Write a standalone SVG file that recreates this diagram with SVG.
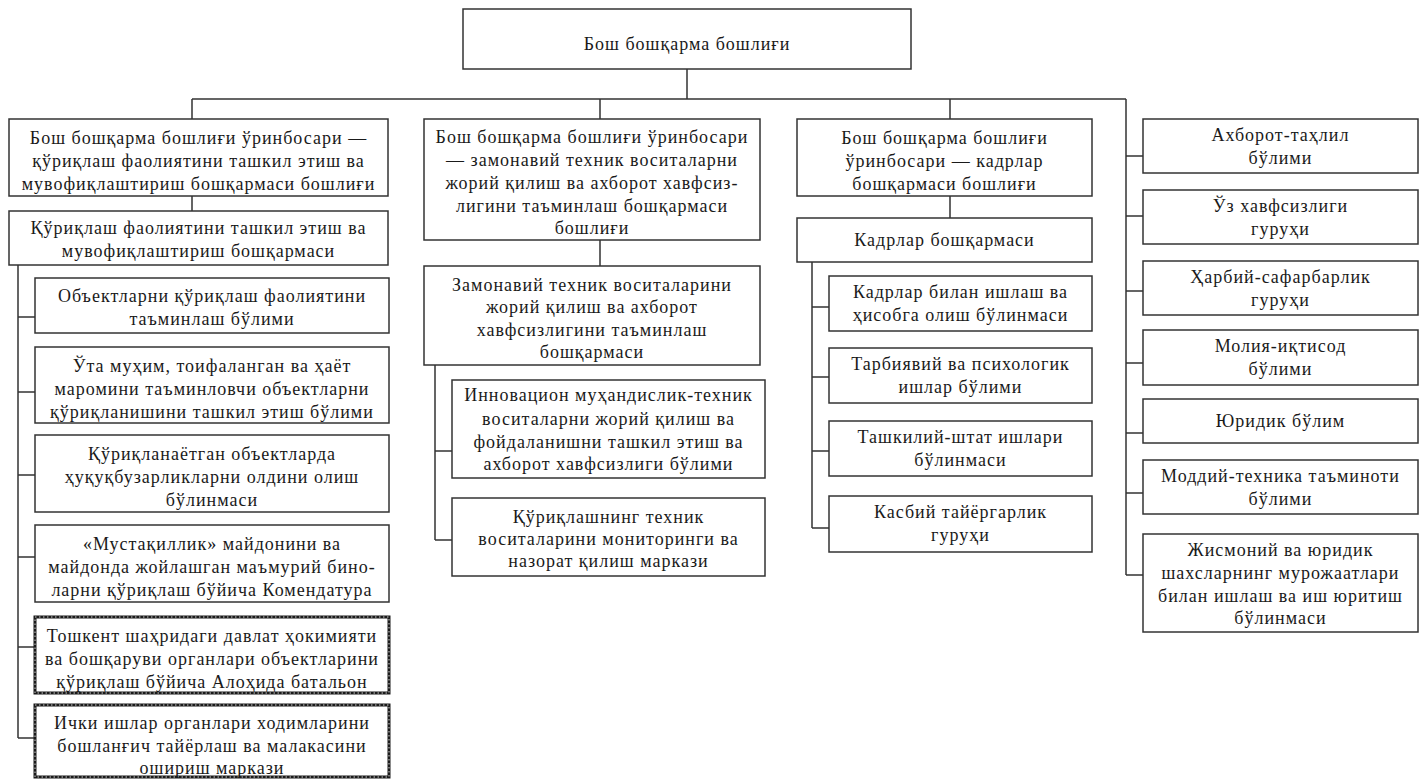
<svg xmlns="http://www.w3.org/2000/svg" width="1421" height="780" viewBox="0 0 1421 780">
<style>
.b{fill:#fff;stroke:#333;stroke-width:1.5}
.d{fill:#fff;stroke:#1a1a1a;stroke-width:3}
.dd{fill:none;stroke:#fff;stroke-width:0.8;stroke-dasharray:1.5 2.5}
.t{font-family:"Liberation Serif","Times New Roman",serif;font-size:18px;letter-spacing:1px;fill:#1a1a1a;text-anchor:middle}
.c{fill:none;stroke:#333;stroke-width:1.5}
</style>
<rect width="1421" height="780" fill="#fff"/>
<g id="connectors">
<path class="c" d="M687 69V99M192 99H1126M192 99V119M192 196V211M600 99V119M600 240V266M950 99V119M950 196V218"/>
<path class="c" d="M18 265V738M18 317H35M18 392H35M18 475H35M18 557H35M18 647H35M18 738H35"/>
<path class="c" d="M435 365V540M435 451H452M435 540H452"/>
<path class="c" d="M812 262V528M812 307H829M812 377H829M812 451H829M812 528H829"/>
<path class="c" d="M1126 99V575M1126 156H1143M1126 216H1143M1126 291H1143M1126 363H1143M1126 433H1143M1126 493H1143M1126 575H1143"/>
</g>
<g id="n0"><rect class="b" x="463" y="9" width="448" height="60"/><text class="t" x="687" y="50">Бош бошқарма бошлиғи</text></g>
<g id="n1"><rect class="b" x="9" y="119" width="379" height="77"/><text class="t"><tspan x="198.5" y="144">Бош бошқарма бошлиғи ўринбосари —</tspan><tspan x="198.5" y="167">қўриқлаш фаолиятини ташкил этиш ва</tspan><tspan x="198.5" y="190">мувофиқлаштириш бошқармаси бошлиғи</tspan></text></g>
<g id="n2"><rect class="b" x="9" y="211" width="379" height="54"/><text class="t"><tspan x="198.5" y="234">Қўриқлаш фаолиятини ташкил этиш ва</tspan><tspan x="198.5" y="257">мувофиқлаштириш бошқармаси</tspan></text></g>
<g id="n3"><rect class="b" x="35" y="278" width="354" height="55"/><text class="t"><tspan x="212" y="302">Объектларни қўриқлаш фаолиятини</tspan><tspan x="212" y="325">таъминлаш бўлими</tspan></text></g>
<g id="n4"><rect class="b" x="35" y="347" width="354" height="76"/><text class="t"><tspan x="212" y="372">Ўта муҳим, тоифаланган ва ҳаёт</tspan><tspan x="212" y="395">маромини таъминловчи объектларни</tspan><tspan x="212" y="418">қўриқланишини ташкил этиш бўлими</tspan></text></g>
<g id="n5"><rect class="b" x="35" y="435" width="354" height="77"/><text class="t"><tspan x="212" y="460">Қўриқланаётган объектларда</tspan><tspan x="212" y="483">ҳуқуқбузарликларни олдини олиш</tspan><tspan x="212" y="506">бўлинмаси</tspan></text></g>
<g id="n6"><rect class="b" x="35" y="525" width="354" height="77"/><text class="t"><tspan x="212" y="550">«Мустақиллик» майдонини ва</tspan><tspan x="212" y="573">майдонда жойлашган маъмурий бино-</tspan><tspan x="212" y="596">ларни қўриқлаш бўйича Комендатура</tspan></text></g>
<g id="n7"><rect class="d" x="35" y="617" width="354" height="76"/><rect class="dd" x="35" y="617" width="354" height="76"/><text class="t"><tspan x="212" y="642">Тошкент шаҳридаги давлат ҳокимияти</tspan><tspan x="212" y="665">ва бошқаруви органлари объектларини</tspan><tspan x="212" y="688">қўриқлаш бўйича Алоҳида батальон</tspan></text></g>
<g id="n8"><rect class="d" x="35" y="705" width="354" height="72"/><rect class="dd" x="35" y="705" width="354" height="72"/><text class="t"><tspan x="212" y="729">Ички ишлар органлари ходимларини</tspan><tspan x="212" y="752">бошланғич тайёрлаш ва малакасини</tspan><tspan x="212" y="774">ошириш маркази</tspan></text></g>
<g id="n9"><rect class="b" x="424" y="119" width="336" height="121"/><text class="t"><tspan x="592" y="143">Бош бошқарма бошлиғи ўринбосари</tspan><tspan x="592" y="166">— замонавий техник воситаларни</tspan><tspan x="592" y="189">жорий қилиш ва ахборот хавфсиз-</tspan><tspan x="592" y="212">лигини таъминлаш бошқармаси</tspan><tspan x="592" y="234">бошлиғи</tspan></text></g>
<g id="n10"><rect class="b" x="424" y="266" width="336" height="99"/><text class="t"><tspan x="592" y="291">Замонавий техник воситаларини</tspan><tspan x="592" y="313">жорий қилиш ва ахборот</tspan><tspan x="592" y="336">хавфсизлигини таъминлаш</tspan><tspan x="592" y="358">бошқармаси</tspan></text></g>
<g id="n11"><rect class="b" x="452" y="380" width="313" height="98"/><text class="t"><tspan x="608.5" y="401">Инновацион муҳандислик-техник</tspan><tspan x="608.5" y="425">воситаларни жорий қилиш ва</tspan><tspan x="608.5" y="448">фойдаланишни ташкил этиш ва</tspan><tspan x="608.5" y="470">ахборот хавфсизлиги бўлими</tspan></text></g>
<g id="n12"><rect class="b" x="452" y="498" width="313" height="78"/><text class="t"><tspan x="608.5" y="523">Қўриқлашнинг техник</tspan><tspan x="608.5" y="545">воситаларини мониторинги ва</tspan><tspan x="608.5" y="567">назорат қилиш маркази</tspan></text></g>
<g id="n13"><rect class="b" x="797" y="119" width="295" height="77"/><text class="t"><tspan x="944.5" y="144">Бош бошқарма бошлиғи</tspan><tspan x="944.5" y="167">ўринбосари — кадрлар</tspan><tspan x="944.5" y="190">бошқармаси бошлиғи</tspan></text></g>
<g id="n14"><rect class="b" x="797" y="218" width="295" height="44"/><text class="t"><tspan x="944.5" y="246">Кадрлар бошқармаси</tspan></text></g>
<g id="n15"><rect class="b" x="829" y="276" width="263" height="55"/><text class="t"><tspan x="960.5" y="298">Кадрлар билан ишлаш ва</tspan><tspan x="960.5" y="321">ҳисобга олиш бўлинмаси</tspan></text></g>
<g id="n16"><rect class="b" x="829" y="348" width="263" height="55"/><text class="t"><tspan x="960.5" y="370">Тарбиявий ва психологик</tspan><tspan x="960.5" y="393">ишлар бўлими</tspan></text></g>
<g id="n17"><rect class="b" x="829" y="421" width="263" height="55"/><text class="t"><tspan x="960.5" y="443">Ташкилий-штат ишлари</tspan><tspan x="960.5" y="466">бўлинмаси</tspan></text></g>
<g id="n18"><rect class="b" x="829" y="496" width="263" height="56"/><text class="t"><tspan x="960.5" y="518">Касбий тайёргарлик</tspan><tspan x="960.5" y="541">гуруҳи</tspan></text></g>
<g id="n19"><rect class="b" x="1143" y="119" width="275" height="54"/><text class="t"><tspan x="1280.5" y="141">Ахборот-таҳлил</tspan><tspan x="1280.5" y="164">бўлими</tspan></text></g>
<g id="n20"><rect class="b" x="1143" y="190" width="275" height="54"/><text class="t"><tspan x="1280.5" y="212">Ўз хавфсизлиги</tspan><tspan x="1280.5" y="235">гуруҳи</tspan></text></g>
<g id="n21"><rect class="b" x="1143" y="261" width="275" height="54"/><text class="t"><tspan x="1280.5" y="283">Ҳарбий-сафарбарлик</tspan><tspan x="1280.5" y="306">гуруҳи</tspan></text></g>
<g id="n22"><rect class="b" x="1143" y="330" width="275" height="55"/><text class="t"><tspan x="1280.5" y="352">Молия-иқтисод</tspan><tspan x="1280.5" y="375">бўлими</tspan></text></g>
<g id="n23"><rect class="b" x="1143" y="399" width="275" height="44"/><text class="t"><tspan x="1280.5" y="427">Юридик бўлим</tspan></text></g>
<g id="n24"><rect class="b" x="1143" y="460" width="275" height="54"/><text class="t"><tspan x="1280.5" y="482">Моддий-техника таъминоти</tspan><tspan x="1280.5" y="505">бўлими</tspan></text></g>
<g id="n25"><rect class="b" x="1143" y="534" width="275" height="98"/><text class="t"><tspan x="1280.5" y="556">Жисмоний ва юридик</tspan><tspan x="1280.5" y="579">шахсларнинг мурожаатлари</tspan><tspan x="1280.5" y="602">билан ишлаш ва иш юритиш</tspan><tspan x="1280.5" y="624">бўлинмаси</tspan></text></g>
</svg>
